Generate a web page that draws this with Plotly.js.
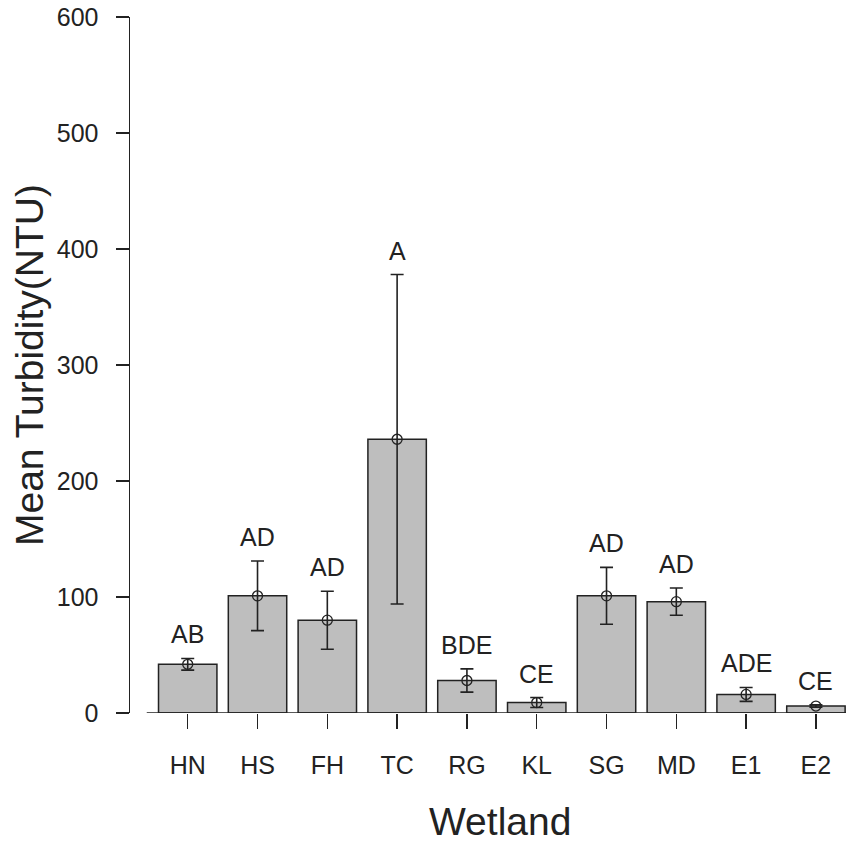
<!DOCTYPE html>
<html>
<head>
<meta charset="utf-8">
<script src="https://cdn.plot.ly/plotly-3.0.1.min.js"></script>
<style>html,body{margin:0;padding:0;background:#fff;}#chart{width:846px;height:844px;}</style>
</head>
<body>
<div id="chart"></div>
<script>
const wetlands = ["HN","HS","FH","TC","RG","KL","SG","MD","E1","E2"];
const meanTurbidity = [42, 101, 80, 236, 28, 9, 101, 96, 16, 6];
const seTurbidity = [5, 30, 25, 142, 10, 4.3, 24.5, 11.7, 6, 1];
const groupLetters = ["AB","AD","AD","A","BDE","CE","AD","AD","ADE","CE"];

const ink = '#222222';
const fontFam = 'Liberation Sans, Arial, sans-serif';

const bars = {
  type: 'bar', x: wetlands, y: meanTurbidity, width: 0.837,
  marker: {color: '#BEBEBE', line: {color: ink, width: 1.5}},
  hoverinfo: 'skip', showlegend: false
};
const points = {
  type: 'scatter', mode: 'markers', x: wetlands, y: meanTurbidity,
  marker: {symbol: 'circle-open', size: 10, color: ink, line: {width: 1.3, color: ink}},
  error_y: {type: 'data', array: seTurbidity, visible: true, color: ink, thickness: 1.6, width: 6.5},
  showlegend: false, cliponaxis: false
};

const annotations = wetlands.map((w, i) => ({
  x: w, y: meanTurbidity[i] + seTurbidity[i], xref: 'x', yref: 'y',
  text: groupLetters[i], showarrow: false, yanchor: 'middle', yshift: 24,
  font: {family: fontFam, size: 25, color: ink}
}));
annotations.push({
  xref: 'paper', yref: 'paper', x: (500 - 130) / 716, y: -(821 - 713) / 696,
  xanchor: 'center', yanchor: 'middle', showarrow: false,
  text: 'Wetland', font: {family: fontFam, size: 39, color: ink}
});
annotations.push({
  xref: 'paper', yref: 'paper', x: (29 - 130) / 716, y: 0.5,
  xanchor: 'center', yanchor: 'middle', showarrow: false, textangle: -90,
  text: 'Mean Turbidity(NTU)', font: {family: fontFam, size: 39, color: ink}
});

const layout = {
  width: 846, height: 844,
  margin: {l: 130, r: 0, t: 17, b: 131},
  paper_bgcolor: '#ffffff', plot_bgcolor: '#ffffff',
  font: {family: fontFam, color: ink},
  xaxis: {
    type: 'category', range: [-0.827, 9.431],
    showline: false, showgrid: false, zeroline: false,
    ticks: 'outside', ticklen: 15, tickwidth: 1.5, tickcolor: ink,
    tickfont: {size: 25, family: fontFam, color: ink},
    ticklabelstandoff: 15
  },
  yaxis: {
    range: [0, 600], dtick: 100, tick0: 0,
    showline: true, linecolor: ink, linewidth: 1.5,
    showgrid: false, zeroline: false,
    ticks: 'outside', ticklen: 13, tickwidth: 1.5, tickcolor: ink,
    tickfont: {size: 25, family: fontFam, color: ink},
    ticklabelstandoff: 12
  },
  shapes: [{
    type: 'line', xref: 'x', yref: 'y', x0: -0.587, x1: 9.431, y0: 0, y1: 0,
    line: {color: ink, width: 1.5}, layer: 'above'
  }],
  annotations: annotations,
  bargap: 0
};

Plotly.newPlot('chart', [bars, points], layout, {staticPlot: true, displayModeBar: false});
</script>
</body>
</html>
